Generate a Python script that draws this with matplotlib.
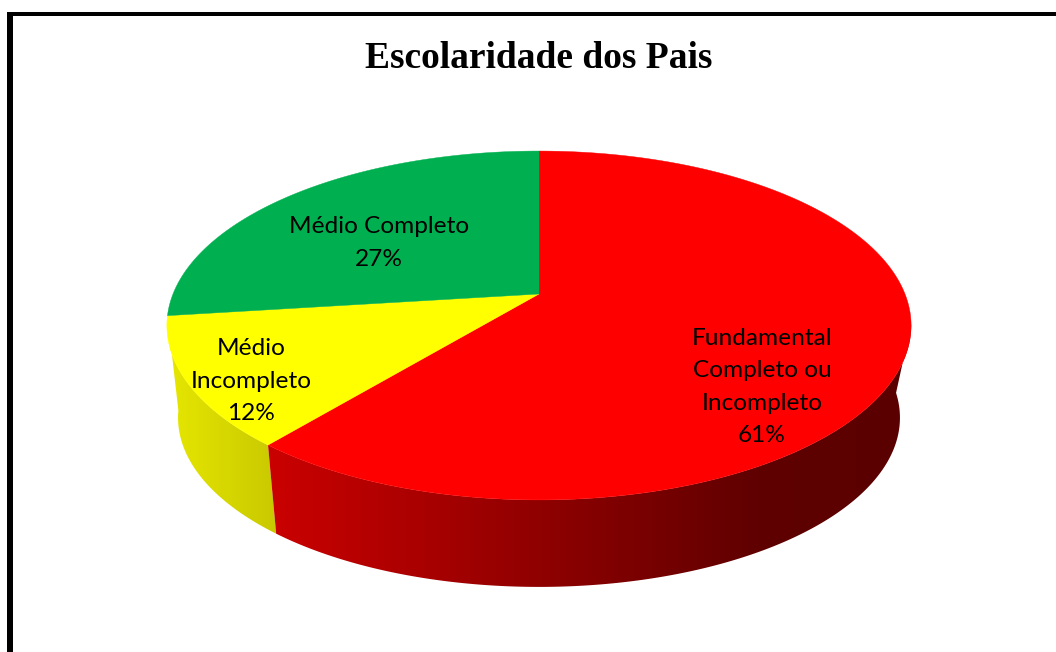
"""3D-look pie chart, Escolaridade dos Pais."""
import numpy as np
import matplotlib
matplotlib.use("Agg")
import matplotlib.pyplot as plt
from matplotlib.colors import LinearSegmentedColormap
from matplotlib.patches import Polygon, Rectangle

TITLE = "Escolaridade dos Pais"
labels = ["Fundamental\nCompleto ou\nIncompleto", "Médio\nIncompleto", "Médio Completo"]
values = [61, 12, 27]
colors = ["#ff0000", "#ffff00", "#00b050"]

# text centres, pixels
label_xy = [(762, 387), (251, 381), (379, 243)]

W, H = 1056, 652
CX = 539
APEX_Y = 294
PERSP = 0.1805
KX = 366
KY = -115.7
# lower rim of the wall
RIM_S = 0.97
RIM_Y0 = 417.7
ELL_CY = 325.5


def top_pt(deg):
    # clockwise from 12 o'clock, circle -> perspective ellipse
    t = np.radians(deg)
    u, v = np.sin(t), np.cos(t)
    d = 1 + PERSP * v
    return CX + KX * u / d, (KY * v + APEX_Y) / d


def low_pt(deg):
    x, y = top_pt(deg)
    return CX + RIM_S * (x - CX), RIM_Y0 + RIM_S * (y - ELL_CY)


def arc(fn, a, b, n=200):
    xs, ys = fn(np.linspace(a, b, n))
    return np.column_stack([xs, ys])


def wall(ax, top_from, top_to, low_from, low_to, cmap, x0, x1):
    verts = np.vstack([arc(top_pt, top_from, top_to), arc(low_pt, low_to, low_from)])
    poly = Polygon(verts, closed=True, fc="none", ec="none", transform=ax.transData)
    ax.add_patch(poly)
    grad = np.linspace(0, 1, 512).reshape(1, -1)
    im = ax.imshow(grad, extent=(x0, x1, H, 0), cmap=cmap, aspect="auto", zorder=1)
    im.set_clip_path(poly)


fig = plt.figure(figsize=(W / 100, H / 100), dpi=100)
ax = fig.add_axes([0, 0, 1, 1])
ax.set_axis_off()

edges = np.cumsum([0] + values) / sum(values) * 360

red_wall = LinearSegmentedColormap.from_list(
    "red_wall", [(0, "#cc0000"), (0.76, "#5f0000"), (1, "#5a0000")])
yellow_wall = LinearSegmentedColormap.from_list("yellow_wall", ["#e6e600", "#c8c800"])

wall(ax, edges[2], edges[1], 262, edges[1], yellow_wall, 170, 280)
wall(ax, edges[1], 100, edges[1], 92, red_wall, 262, 920)

for i, c in enumerate(colors):
    pts = arc(top_pt, edges[i], edges[i + 1])
    verts = np.vstack([[CX, APEX_Y], pts])
    ax.add_patch(Polygon(verts, closed=True, fc=c, ec=c, lw=0.3, zorder=2))

for lab, v, (x, y) in zip(labels, values, label_xy):
    ax.text(x, y, f"{lab}\n{v}%", ha="center", va="center", fontsize=17.6,
            family="Lato", color="black", linespacing=1.66, zorder=3)

ax.text(539, 58, TITLE, ha="center", va="center", fontsize=27, fontweight="bold",
        family="Liberation Serif", color="black")

# outer frame, cut off by the image on the right and bottom
ax.add_patch(Rectangle((7.3, 12), W - 7.3, 3.5, fc="black", ec="none", zorder=4))
ax.add_patch(Rectangle((7.3, 12), 5.3, H - 12, fc="black", ec="none", zorder=4))

ax.set_xlim(0, W)
ax.set_ylim(H, 0)
fig.savefig("out.png", dpi=100, facecolor="white")
